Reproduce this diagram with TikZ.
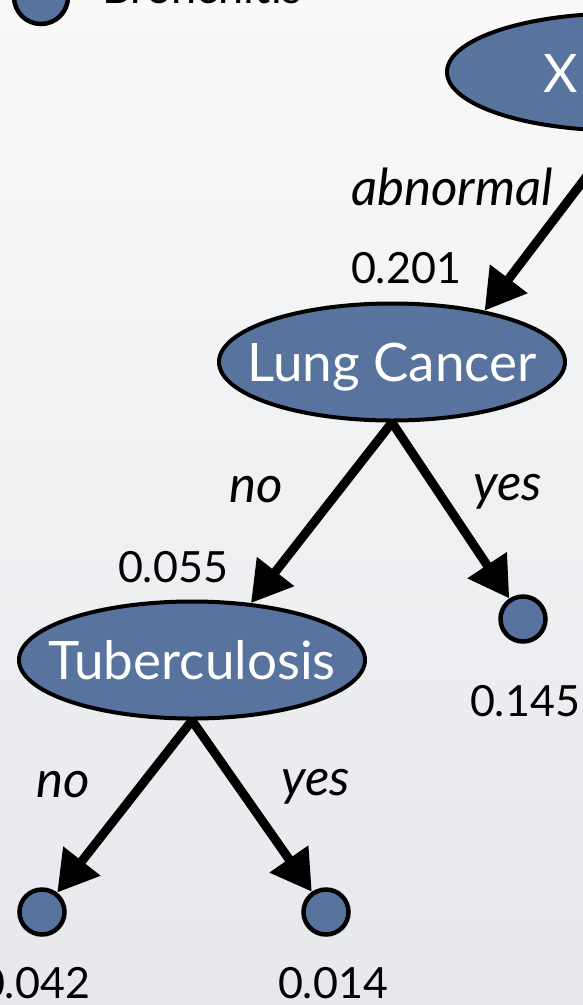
\documentclass[tikz,border=0pt]{standalone}
\usepackage{fontspec}
\setmainfont{Lato}
\usetikzlibrary{shapes.geometric,arrows.meta}
\definecolor{nodeblue}{RGB}{88,116,158}
\definecolor{bgtop}{RGB}{249,249,249}
\definecolor{bgbottom}{RGB}{230,232,236}
\pgfdeclarelayer{bg}
\pgfdeclarelayer{edges}
\pgfsetlayers{bg,edges,main}
\newcommand{\vlabel}[1]{\makebox[0pt][c]{#1}}
\tikzset{
  var/.style={ellipse, draw=black, line width=4pt, fill=nodeblue,
    minimum width=346pt, minimum height=117pt, inner sep=0pt,
    text height=39pt, text depth=0pt,
    text=white, font=\fontsize{53}{56}\selectfont},
  leaf/.style={circle, draw=black, line width=4.5pt, fill=nodeblue,
    minimum size=45pt, inner sep=0pt},
  edge/.style={line width=9pt, -{Triangle[length=40pt,width=45pt]}},
  prob/.style={inner sep=0pt, anchor=base, font=\fontsize{43}{46}\selectfont},
  cond/.style={inner sep=0pt, anchor=base, font=\itshape\fontsize{51}{54}\selectfont}
}
\begin{document}
\begin{tikzpicture}[x=1pt,y=-1pt]
\useasboundingbox (0,0) rectangle (583,1005);
\begin{pgfonlayer}{bg}
  \shade[top color=bgtop, bottom color=bgbottom] (0,0) rectangle (583,1005);
\end{pgfonlayer}
\clip (0,0) rectangle (583,1005);

% legend entry
\node[leaf, minimum size=54pt] (legend) at (41,-3) {};
\node[inner sep=0pt, anchor=base west, font=\fontsize{45}{48}\selectfont] (legendtext) at (102,3) {Bronchitis};

% variable nodes
\node[var] (xr) at (620,72) {};
\node[inner sep=0pt, anchor=base west, text=white, font=\fontsize{53}{56}\selectfont] (xrtext) at (543,92) {X};
\node[var] (lc) at (392,362) {\vlabel{Lung Cancer}};
\node[var] (tb) at (192,660) {\vlabel{Tuberculosis}};

% outcome leaves
\node[leaf] (leafR) at (523,619) {};
\node[leaf] (leafLL) at (42,912) {};
\node[leaf] (leafLR) at (326,912) {};

% branches
\begin{pgfonlayer}{edges}
  \draw[edge] (xr.south) -- (lc.29);
  \draw[edge] (lc.south) -- (tb.44);
  \draw[edge] (lc.south) -- (leafR);
  \draw[edge] (tb.south) -- (leafLL);
  \draw[edge] (tb.south) -- (leafLR);
\end{pgfonlayer}

% branch conditions
\node[cond] (c1) at (452,205) {abnormal};
\node[cond] (c2) at (256,502) {no};
\node[cond] (c3) at (508,500) {yes};
\node[cond] (c4) at (63,797) {no};
\node[cond] (c5) at (316,795) {yes};

% probabilities
\node[prob] (p1) at (406,283) {0.201};
\node[prob] (p2) at (173,582) {0.055};
\node[prob] (p3) at (525,716) {0.145};
\node[prob] (p4) at (35,998) {0.042};
\node[prob] (p5) at (333,998) {0.014};
\end{tikzpicture}
\end{document}
